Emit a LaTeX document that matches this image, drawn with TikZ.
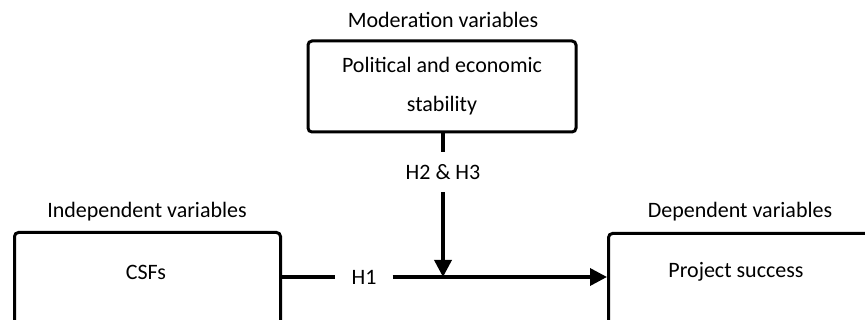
\documentclass[tikz,border=0pt]{standalone}
\usepackage{fontspec}
\setmainfont{Carlito}
\usetikzlibrary{arrows.meta}
\tikzset{
  box/.style={draw=black, line width=3pt, rounded corners=4pt, inner sep=0pt},
  txt/.style={inner sep=0pt, font=\fontsize{22}{26}\selectfont},
  conn/.style={line width=3.5pt},
  arr/.style={line width=3.5pt, -{Triangle[length=17pt,width=17pt]}},
}
\begin{document}
\begin{tikzpicture}[x=1pt,y=-1pt]
\useasboundingbox (0,0) rectangle (865,320);
\clip (0,0) rectangle (865,320);
% labels
\node[txt] (modlab) at (443,20) {Moderation variables};
\node[txt] (indlab) at (147,212) {Independent variables};
\node[txt] (deplab) at (740,212) {Dependent variables};
% boxes
\node[box, minimum width=268pt, minimum height=91pt, align=center,
      font=\fontsize{22}{26}\selectfont] (mod) at (442,86.5)
      {Political and economic\\[13pt]stability};
\node[box, minimum width=266pt, minimum height=140pt, anchor=north west] (csfbox) at (13,231) {};
\node[txt] (csf) at (146,272) {CSFs};
\node[box, minimum width=300pt, minimum height=140pt, anchor=north west] (psbox) at (607,232) {};
\node[txt] (ps) at (736,272) {Project success};
% hypotheses
\node[txt, inner xsep=16pt] (h1) at (364,277) {H1};
\node[txt, minimum height=40pt] (h23) at (443,172) {H2 \& H3};
\coordinate (meet) at (443,277);
% connectors
\draw[conn] (csfbox.east |- h1) -- (h1.west);
\draw[arr] (h1.east) -- (psbox.west |- h1);
\draw[conn] (mod.south -| h23) -- (h23.north);
\draw[arr] (h23.south) -- (meet);
\end{tikzpicture}
\end{document}
